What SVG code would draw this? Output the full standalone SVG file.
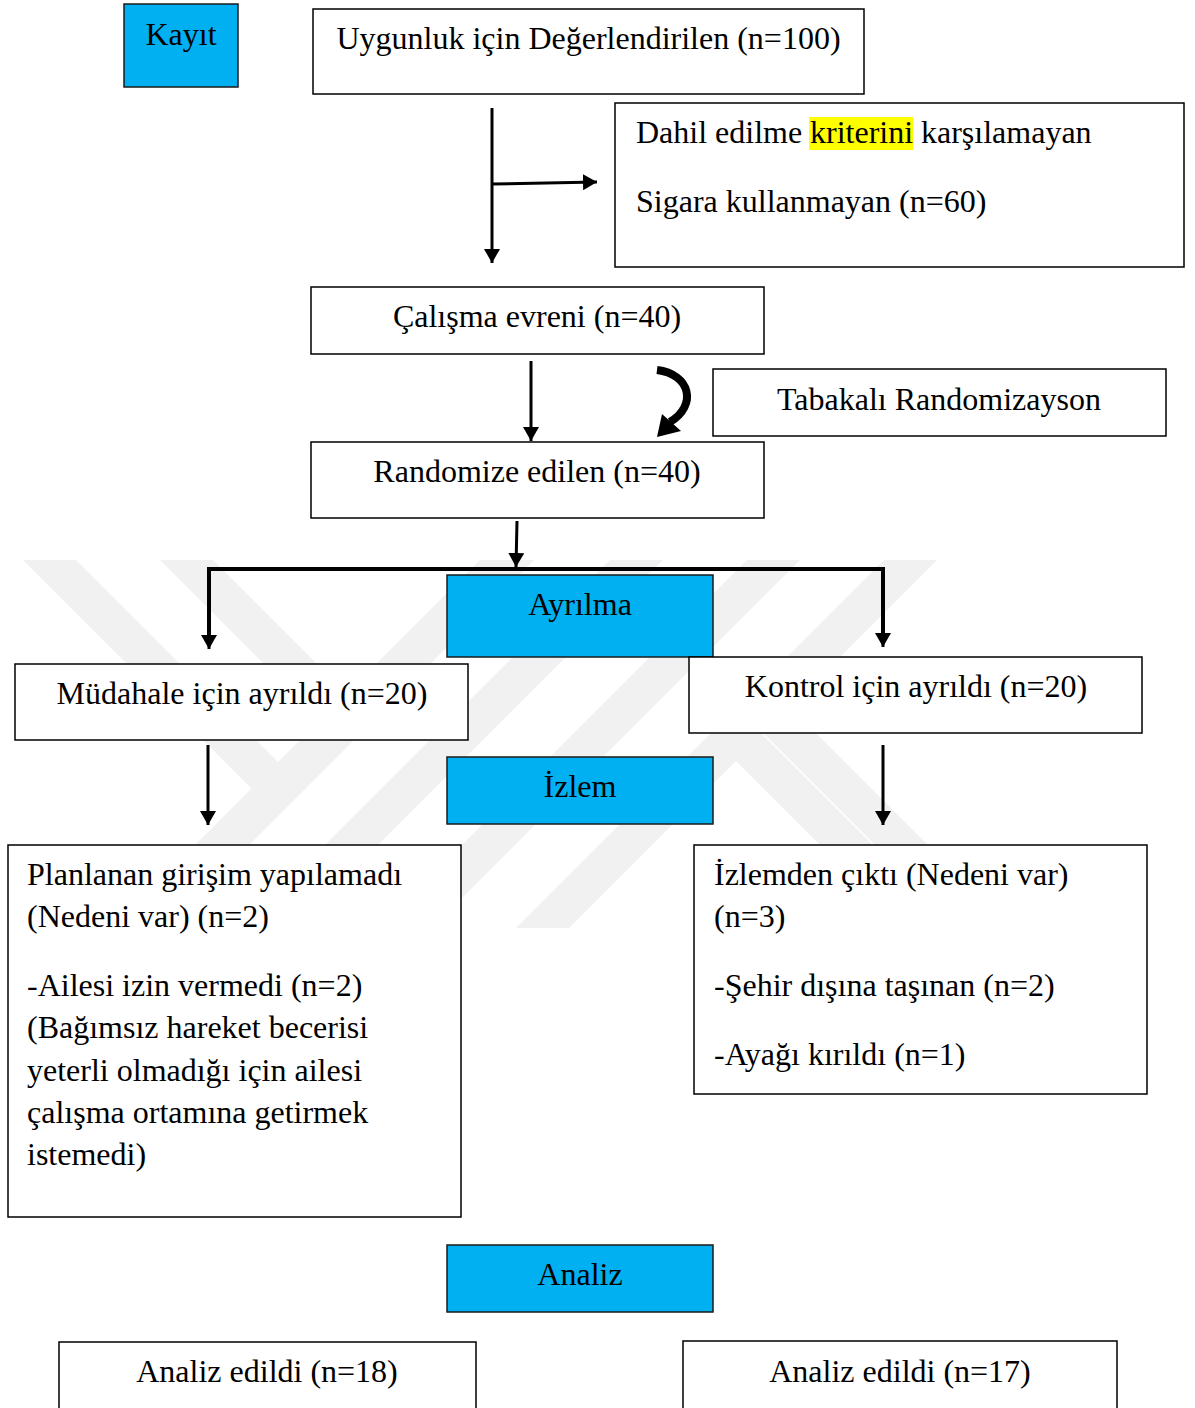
<svg xmlns="http://www.w3.org/2000/svg" width="1195" height="1408" viewBox="0 0 1195 1408">
<style>
.box{fill:#fff;stroke:#000;stroke-width:1.5}
.blue{fill:#00B0F0;stroke:#1a1a1a;stroke-width:1.5}
.t{font-family:"Liberation Serif","Times New Roman",serif;font-size:32px;fill:#000}
.c{text-anchor:middle}
.ln{stroke:#000;stroke-width:3;fill:none}
.wm{fill:#f1f1f1}
</style>
<defs>
<marker id="ah" markerUnits="userSpaceOnUse" markerWidth="14" markerHeight="16" viewBox="0 0 14 16" refX="14" refY="8" orient="auto">
<path d="M0,0 L14,8 L0,16 Z" fill="#000"/>
</marker>
</defs>
<rect width="1195" height="1408" fill="#fff"/>
<g id="watermark">
<polygon class="wm" points="23,560 76,560 306,790 253,790"/>
<polygon class="wm" points="160,560 213,560 373,720 320,720"/>
<polygon class="wm" points="480,560 534,560 154,940 100,940"/>
<polygon class="wm" points="610,560 663,560 293,930 240,930"/>
<polygon class="wm" points="747,560 800,560 432,928 379,928"/>
<polygon class="wm" points="884,560 937,560 569,928 516,928"/>
<polygon class="wm" points="710,735 763,735 958,930 905,930"/>
<polygon class="wm" points="730,700 783,700 928,845 875,845"/>
</g>
<g id="connectors">
<line class="ln" x1="492" y1="108" x2="492" y2="263" marker-end="url(#ah)"/>
<line class="ln" x1="492" y1="184" x2="597" y2="182" marker-end="url(#ah)"/>
<line class="ln" x1="531" y1="361" x2="531" y2="441" marker-end="url(#ah)"/>
<line class="ln" x1="517" y1="521" x2="516" y2="567" marker-end="url(#ah)"/>
<polyline points="209,636 209,569 883,569 883,634" fill="none" stroke="#000" stroke-width="4"/>
<line class="ln" x1="209" y1="600" x2="209" y2="649" marker-end="url(#ah)"/>
<line class="ln" x1="883" y1="600" x2="883" y2="647" marker-end="url(#ah)"/>
<line class="ln" x1="208" y1="745" x2="208" y2="825" marker-end="url(#ah)"/>
<line class="ln" x1="883" y1="745" x2="883" y2="825" marker-end="url(#ah)"/>
<path d="M657,370 C690,374 698,405 670,422" fill="none" stroke="#000" stroke-width="8"/>
<polygon points="657,437 662,414 681,431" fill="#000"/>
</g>
<g id="kayit">
<rect class="blue" x="124" y="4" width="114" height="83"/>
<text class="t c" x="181" y="45">Kayıt</text>
</g>
<g id="uygunluk">
<rect class="box" x="313" y="9" width="551" height="85"/>
<text class="t c" x="588.5" y="49">Uygunluk için Değerlendirilen (n=100)</text>
</g>
<g id="dahil">
<rect class="box" x="615" y="103" width="569" height="164"/>
<rect x="809" y="117" width="104" height="33" fill="#ffff00"/>
<text class="t" x="636" y="143">Dahil edilme</text>
<text class="t" x="810" y="143">kriterini</text>
<text class="t" x="921" y="143">karşılamayan</text>
<text class="t" x="636" y="212">Sigara kullanmayan (n=60)</text>
</g>
<g id="calisma">
<rect class="box" x="311" y="287" width="453" height="67"/>
<text class="t c" x="537" y="327">Çalışma evreni (n=40)</text>
</g>
<g id="tabakali">
<rect class="box" x="713" y="369" width="453" height="67"/>
<text class="t c" x="939" y="410">Tabakalı Randomizayson</text>
</g>
<g id="randomize">
<rect class="box" x="311" y="442" width="453" height="76"/>
<text class="t c" x="537" y="482">Randomize edilen (n=40)</text>
</g>
<g id="ayrilma">
<rect class="blue" x="447" y="575" width="266" height="82"/>
<text class="t c" x="580" y="615">Ayrılma</text>
</g>
<g id="mudahale">
<rect class="box" x="15" y="664" width="453" height="76"/>
<text class="t c" x="242" y="704">Müdahale için ayrıldı (n=20)</text>
</g>
<g id="kontrol">
<rect class="box" x="689" y="657" width="453" height="76"/>
<text class="t c" x="916" y="697">Kontrol için ayrıldı (n=20)</text>
</g>
<g id="izlem">
<rect class="blue" x="447" y="757" width="266" height="67"/>
<text class="t c" x="580" y="797">İzlem</text>
</g>
<g id="planlanan">
<rect class="box" x="8" y="845" width="453" height="372"/>
<text class="t" x="27" y="885">Planlanan girişim yapılamadı</text>
<text class="t" x="27" y="927">(Nedeni var) (n=2)</text>
<text class="t" x="27" y="996">-Ailesi izin vermedi (n=2)</text>
<text class="t" x="27" y="1038">(Bağımsız hareket becerisi</text>
<text class="t" x="27" y="1081">yeterli olmadığı için ailesi</text>
<text class="t" x="27" y="1123">çalışma ortamına getirmek</text>
<text class="t" x="27" y="1165">istemedi)</text>
</g>
<g id="izlemden">
<rect class="box" x="694" y="845" width="453" height="249"/>
<text class="t" x="714" y="885">İzlemden çıktı (Nedeni var)</text>
<text class="t" x="714" y="927">(n=3)</text>
<text class="t" x="714" y="996">-Şehir dışına taşınan (n=2)</text>
<text class="t" x="714" y="1065">-Ayağı kırıldı (n=1)</text>
</g>
<g id="analiz">
<rect class="blue" x="447" y="1245" width="266" height="67"/>
<text class="t c" x="580" y="1285">Analiz</text>
</g>
<g id="analiz18">
<rect class="box" x="59" y="1342" width="417" height="70"/>
<text class="t c" x="267" y="1382">Analiz edildi (n=18)</text>
</g>
<g id="analiz17">
<rect class="box" x="683" y="1341" width="434" height="71"/>
<text class="t c" x="900" y="1382">Analiz edildi (n=17)</text>
</g>
</svg>
